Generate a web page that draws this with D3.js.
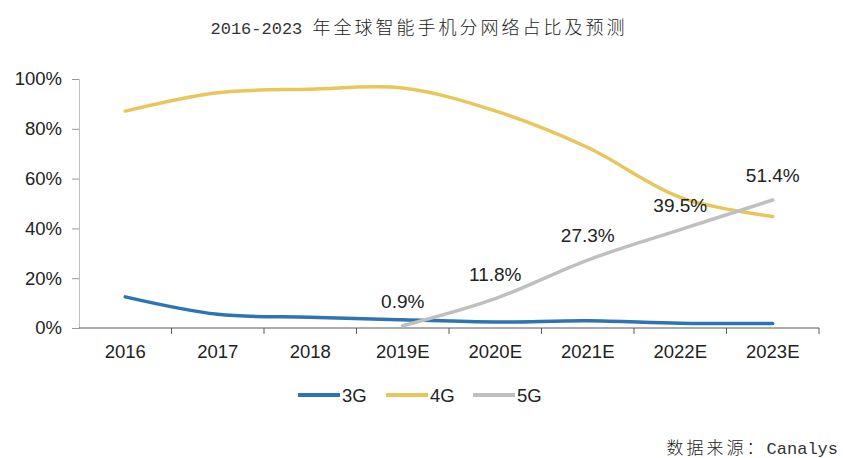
<!DOCTYPE html>
<html><head><meta charset="utf-8">
<script src="https://cdn.jsdelivr.net/npm/d3@7"></script>
<style>body{margin:0;background:#fff}svg{display:block}</style>
</head><body><svg id="c" width="843" height="458"></svg>
<script>
const categories = ["2016","2017","2018","2019E","2020E","2021E","2022E","2023E"];
const series3G = [12.5,5.5,4.3,3.3,2.4,2.9,1.9,1.8];
const series4G = [87.1,94.5,95.9,96.4,87.2,72.5,52.5,44.8];
const series5G = [null,null,null,0.9,11.8,27.3,39.5,51.4];
const yTicks = [0,20,40,60,80,100];
const seriesNames = ["3G","4G","5G"];
const colors = ["#2e74b5","#e8c65a","#bfbfbf"];
const titleNum = "2016-2023 ";
const titleCJK = "年全球智能手机分网络占比及预测";

const svg = d3.select("#c");
const x = d3.scaleBand().domain(categories).range([79,819]);
const y = d3.scaleLinear().domain([0,100]).range([328,79]);
const font = "'Liberation Sans', Arial, sans-serif";

// title
const t = svg.append("text").attr("x",419).attr("y",34).attr("text-anchor","middle").attr("fill","#222");
t.append("tspan").attr("font-family","'Liberation Mono', monospace").attr("font-size",17).attr("fill","#333").text(titleNum);
t.append("tspan").attr("font-family","'Noto Sans CJK SC'").attr("font-size",18).attr("font-weight",300)
  .style("letter-spacing","3px").text(titleCJK);

// y axis
const ya = svg.append("g").attr("transform","translate(79,0)")
  .call(d3.axisLeft(y).tickValues(yTicks).tickSize(7).tickPadding(10).tickFormat(d=>d+"%"));
ya.select(".domain").attr("stroke","#bfbfbf");
ya.selectAll(".tick line").attr("stroke","#999");
ya.selectAll("text").attr("font-family",font).attr("font-size",18.5).attr("fill","#222");

// x axis
const xa = svg.append("g").attr("transform","translate(0,328)")
  .call(d3.axisBottom(x).tickSize(0).tickPadding(17));
xa.select(".domain").attr("stroke","#595959").attr("d","M79,0H819");
xa.selectAll("text").attr("font-family",font).attr("font-size",18.5).attr("fill","#222");
const bounds = categories.map(c=>x(c)).concat([x.range()[1]]).slice(1);
xa.selectAll(".bt").data(bounds).enter().append("line").attr("class","bt")
  .attr("x1",d=>d).attr("x2",d=>d).attr("y1",0).attr("y2",6).attr("stroke","#595959");

// lines
const cx = c => x(c)+x.bandwidth()/2;
const allSeries = [series3G,series4G,series5G];
allSeries.forEach((s,i)=>{
  const pts = categories.map((c,j)=>({c,v:s[j]})).filter(d=>d.v!=null);
  const line = d3.line().x(d=>cx(d.c)).y(d=>y(d.v)).curve(d3.curveCatmullRom.alpha(0.5));
  svg.append("path").attr("d",line(pts)).attr("fill","none").attr("stroke",colors[i])
    .attr("stroke-width",3.5).attr("stroke-linecap","round");
});

// 5G labels
categories.forEach((c,j)=>{
  if(series5G[j]==null) return;
  svg.append("text").attr("x",cx(c)).attr("y",y(series5G[j])-18).attr("text-anchor","middle")
    .attr("font-family",font).attr("font-size",19).attr("fill","#222").text(series5G[j].toFixed(1)+"%");
});

// legend
const lx = [298,386,473];
seriesNames.forEach((n,i)=>{
  svg.append("line").attr("x1",lx[i]).attr("x2",lx[i]+42).attr("y1",395).attr("y2",395)
    .attr("stroke",colors[i]).attr("stroke-width",4);
  svg.append("text").attr("x",lx[i]+44).attr("y",401.5).attr("font-family",font).attr("font-size",18.5)
    .attr("fill","#222").text(n);
});

// source
const s = svg.append("text").attr("x",838).attr("y",454).attr("text-anchor","end").attr("fill","#222");
s.append("tspan").attr("font-family","'Noto Sans CJK SC'").attr("font-size",17).attr("font-weight",300)
  .style("letter-spacing","3px").text("数据来源：");
s.append("tspan").attr("font-family","'Liberation Mono', monospace").attr("font-size",17).attr("fill","#333").text("Canalys");
</script></body></html>
